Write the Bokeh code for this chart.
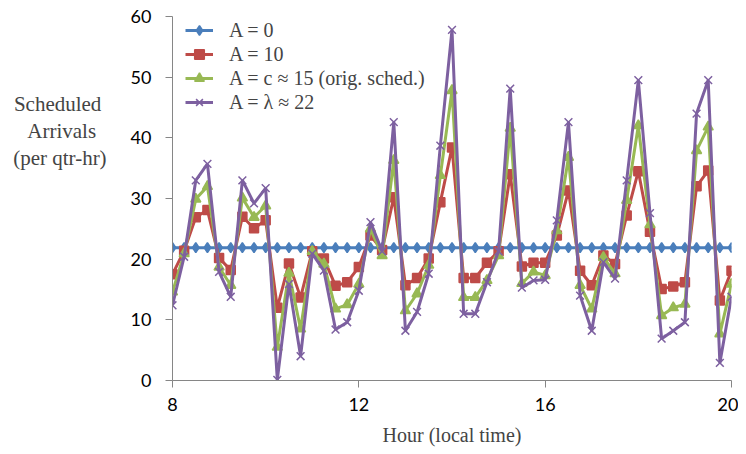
from bokeh.plotting import figure
from bokeh.models import Legend, LegendItem, FixedTicker, ColumnDataSource
from bokeh.embed import file_html
from bokeh.resources import INLINE

hours = [8.0, 8.25, 8.5, 8.75, 9.0, 9.25, 9.5, 9.75, 10.0, 10.25, 10.5, 10.75,
         11.0, 11.25, 11.5, 11.75, 12.0, 12.25, 12.5, 12.75, 13.0, 13.25, 13.5, 13.75,
         14.0, 14.25, 14.5, 14.75, 15.0, 15.25, 15.5, 15.75, 16.0, 16.25, 16.5, 16.75,
         17.0, 17.25, 17.5, 17.75, 18.0, 18.25, 18.5, 18.75, 19.0, 19.25, 19.5, 19.75, 20.0]

a0 = [21.9, 21.9, 21.9, 21.9, 21.9, 21.9, 21.9, 21.9, 21.9, 21.9, 21.9, 21.9,
      21.9, 21.9, 21.9, 21.9, 21.9, 21.9, 21.9, 21.9, 21.9, 21.9, 21.9, 21.9,
      21.9, 21.9, 21.9, 21.9, 21.9, 21.9, 21.9, 21.9, 21.9, 21.9, 21.9, 21.9,
      21.9, 21.9, 21.9, 21.9, 21.9, 21.9, 21.9, 21.9, 21.9, 21.9, 21.9, 21.9, 21.9]

a10 = [17.5, 21.4, 26.9, 28.1, 20.2, 18.2, 27.0, 25.1, 26.4, 12.0, 19.3, 13.7,
       21.3, 20.1, 15.6, 16.2, 18.7, 23.9, 21.5, 30.2, 15.7, 16.9, 20.1, 29.4,
       38.4, 16.9, 16.9, 19.4, 21.3, 34.0, 18.8, 19.4, 19.4, 23.9, 31.3, 18.1,
       15.7, 20.6, 19.2, 27.2, 34.5, 24.5, 15.1, 15.5, 16.2, 32.0, 34.6, 13.2, 18.1]

a15 = [14.6, 20.9, 29.9, 32.0, 18.7, 15.7, 30.1, 26.9, 28.8, 5.5, 17.7, 8.5,
       21.3, 19.2, 11.8, 12.5, 15.9, 25.0, 20.6, 36.3, 11.5, 14.3, 19.0, 33.8,
       47.8, 13.7, 13.7, 16.5, 20.6, 41.6, 16.0, 17.9, 17.3, 24.7, 36.8, 15.7,
       11.8, 20.3, 17.6, 29.7, 42.0, 25.7, 10.7, 12.0, 12.6, 37.9, 41.8, 7.7, 15.9]

a22 = [12.4, 20.4, 33.0, 35.7, 17.9, 13.8, 33.0, 29.2, 31.7, 0.1, 15.9, 4.0,
       20.9, 18.1, 8.4, 9.6, 14.8, 26.1, 21.3, 42.6, 8.2, 11.3, 17.6, 38.7,
       57.8, 11.0, 11.0, 16.2, 21.3, 48.1, 15.3, 16.5, 16.6, 26.4, 42.6, 14.0,
       8.2, 19.5, 16.8, 33.0, 49.5, 27.6, 6.9, 8.2, 9.6, 44.0, 49.5, 2.9, 13.8]

series_labels = ["A = 0", "A = 10", "A = c \u2248 15 (orig. sched.)", "A = \u03bb \u2248 22"]
x_ticks = [8, 12, 16, 20]
y_ticks = [0, 10, 20, 30, 40, 50, 60]
y_title = ["Scheduled", "Arrivals", "(per qtr-hr)"]
x_title = "Hour (local time)"

colors = ["#4A7EBB", "#BE4B48", "#98B954", "#7D60A0"]
markers = ["diamond", "square", "triangle", "x"]
msizes = [10, 9, 10, 11]

SERIF = "Liberation Serif"
SANS = "Lato"

p = figure(frame_width=559, frame_height=364, output_backend="svg", toolbar_location=None,
           x_range=(8, 20), y_range=(0, 60),
           min_border_left=172, min_border_right=7, min_border_top=16, min_border_bottom=40)
p.outline_line_color = None
p.xgrid.visible = False
p.ygrid.visible = False

for ax in (p.xaxis[0], p.yaxis[0]):
    ax.axis_line_color = "#868686"
    ax.major_tick_line_color = "#868686"
    ax.minor_tick_line_color = None
    ax.major_tick_in = 0
    ax.major_tick_out = 7
    ax.major_label_text_font = SANS
    ax.major_label_text_font_size = "18px"
    ax.major_label_text_color = "#000000"

p.xaxis.ticker = FixedTicker(ticks=x_ticks)
p.yaxis.ticker = FixedTicker(ticks=y_ticks)
p.xaxis.major_label_standoff = 10
p.yaxis.major_label_standoff = 14
p.xaxis.axis_label = x_title
p.xaxis.axis_label_text_font = SERIF
p.xaxis.axis_label_text_font_style = "normal"
p.xaxis.axis_label_text_font_size = "20px"
p.xaxis.axis_label_standoff = 10

# horizontal, centred multi-line y title (NBSP padding centres the shorter lines)
NB = "\u00a0"
y_lines = [y_title[0] + NB, y_title[1] + NB * 2, y_title[2]]
p.yaxis.axis_label = "\n".join(y_lines) + "\n\n\n\n\n"
p.yaxis.axis_label_orientation = "horizontal"
p.yaxis.axis_label_text_font = SERIF
p.yaxis.axis_label_text_font_style = "normal"
p.yaxis.axis_label_text_font_size = "21px"
p.yaxis.axis_label_text_line_height = 1.12
p.yaxis.axis_label_standoff = 21

items = []
for ys, lab, c, m, s in zip([a0, a10, a15, a22], series_labels, colors, markers, msizes):
    src = ColumnDataSource(dict(x=hours, y=ys))
    r1 = p.line("x", "y", source=src, line_color=c, line_width=3)
    r2 = p.scatter("x", "y", source=src, marker=m, size=s, fill_color=c, line_color=c,
                   line_width=1.5)
    items.append(LegendItem(label=lab, renderers=[r1, r2]))

legend = Legend(items=items, location=(13, 266), margin=0, padding=0,
                glyph_width=28, glyph_height=24, label_height=24, spacing=0,
                label_standoff=16, label_text_font=SERIF, label_text_font_size="20px",
                label_text_font_style="normal",
                border_line_alpha=0, background_fill_alpha=0)
p.add_layout(legend)

open("out.html", "w").write(file_html(p, INLINE))
